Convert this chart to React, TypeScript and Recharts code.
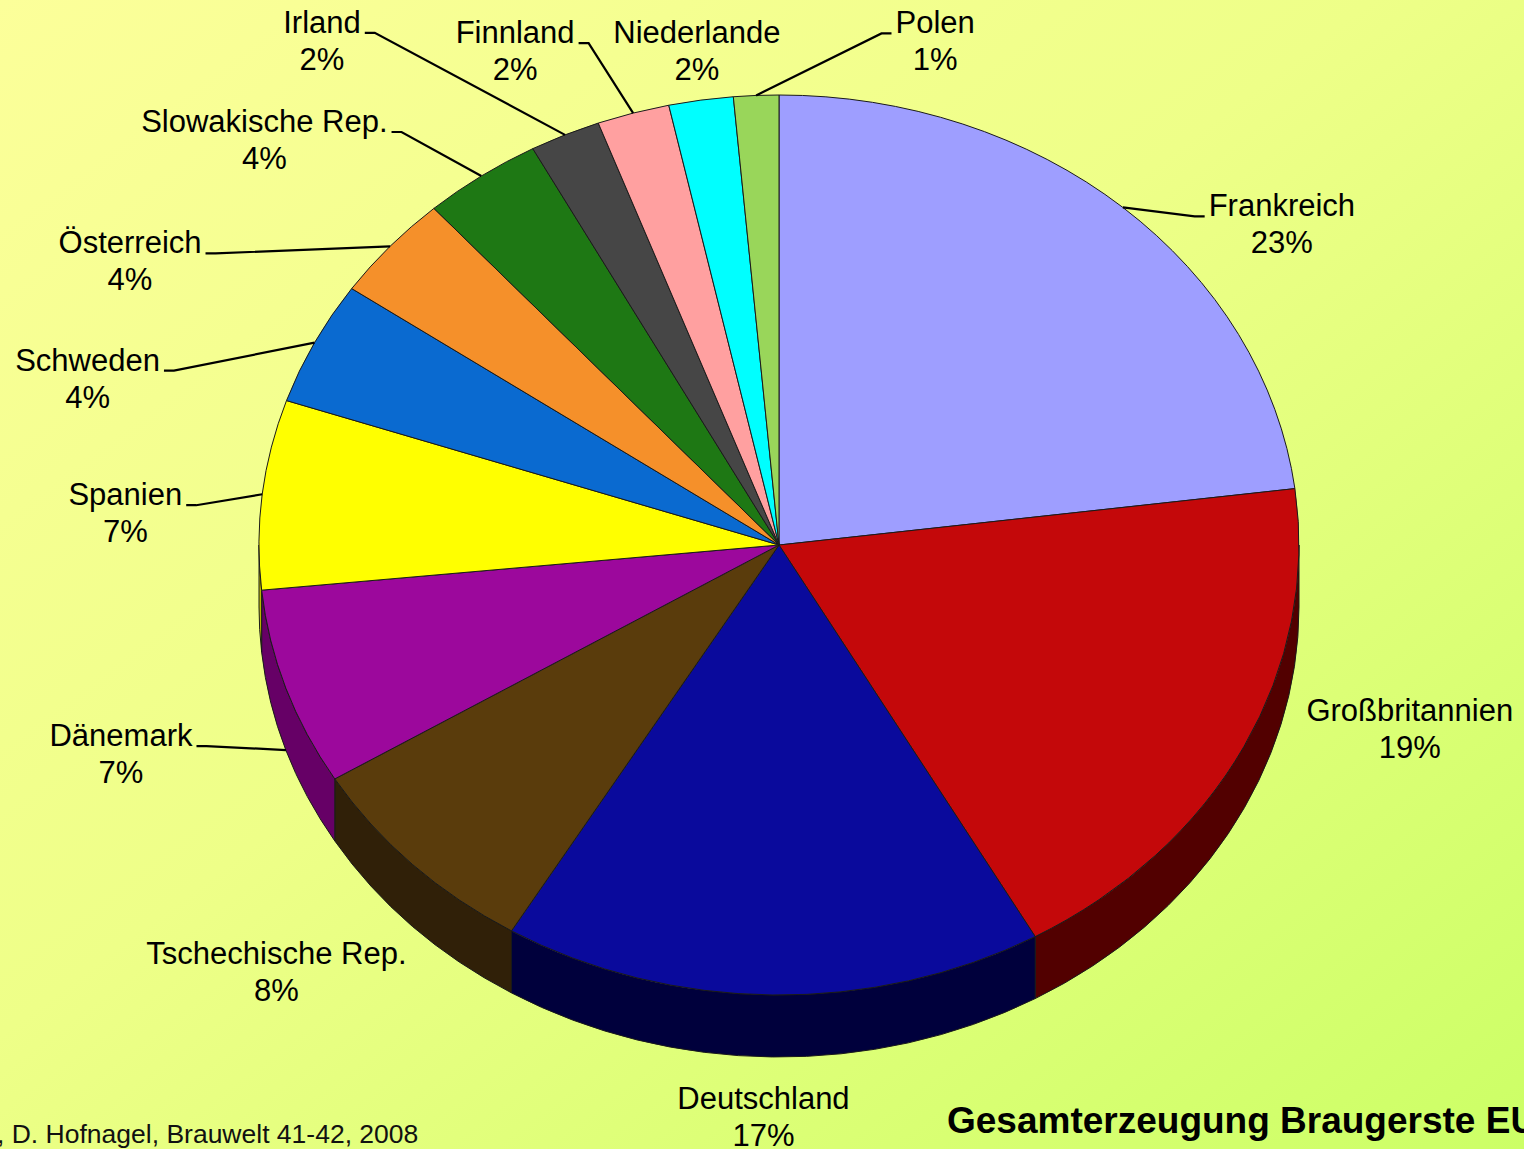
import React from 'react'
import { PieChart, Pie } from 'recharts'

// Anteile an der Gesamterzeugung Braugerste EU (in %)
const COUNTRIES = [
  'Frankreich',
  'Großbritannien',
  'Deutschland',
  'Tschechische Rep.',
  'Dänemark',
  'Spanien',
  'Schweden',
  'Österreich',
  'Slowakische Rep.',
  'Irland',
  'Finnland',
  'Niederlande',
  'Polen',
]
const SHARES = [23.0, 18.8, 16.8, 7.7, 7.1, 6.8, 4.45, 3.8, 3.7, 2.2, 2.25, 2.0, 1.4]

const TITLE = 'Gesamterzeugung Braugerste EU'
const SOURCE = ', D. Hofnagel, Brauwelt 41-42, 2008'

// styles
const FACE_COLORS = ['#9E9EFF', '#C4080A', '#0A0A9C', '#5A3C0C', '#9C089C', '#FFFF00', '#0A6AD0', '#F5902A', '#1E7814', '#464646', '#FFA0A0', '#00FFFF', '#99D65A']
const SIDE_COLORS = ['#4E4E80', '#520000', '#00003C', '#302008', '#660066', '#B8B800', '#064080', '#8A5014', '#0E400A', '#222222', '#805050', '#008080', '#4D6B2D']

// label nudge from the rim point at each slice's mid angle: [dx, dy, leader line?]
const LABEL_NUDGE: [number, number, boolean][] = [
  [159, 9, true],
  [166, -26, false],
  [-9, 114, false],
  [-136, 100, false],
  [-165, 58, true],
  [-137, 11, true],
  [-227, 28, true],
  [-260, 7, true],
  [-217, -44, true],
  [-243, -102, true],
  [-118, -70, true],
  [-4, -57, false],
  [179, -62, true],
]

const data = COUNTRIES.map((name, i) => ({ name, value: SHARES[i] }))

const W = 1524
const H = 1149
const CX = 779
const CY = 545
const RX = 520
const TILT = 450 / 520
const DEPTH = 62
const FONT = '"Liberation Sans", Arial, Helvetica, sans-serif'
const LABEL_SIZE = 31
const LINE_H = 37
const RAD = Math.PI / 180

const pt = (cx: number, cy: number, rx: number, ry: number, a: number) => [
  cx + rx * Math.cos(a * RAD),
  cy - ry * Math.sin(a * RAD),
]

let ctx: CanvasRenderingContext2D | null = null
const textWidth = (s: string) => {
  if (!ctx && typeof document !== 'undefined') ctx = document.createElement('canvas').getContext('2d')
  if (!ctx) return s.length * LABEL_SIZE * 0.55
  ctx.font = `${LABEL_SIZE}px ${FONT}`
  return ctx.measureText(s).width
}

// front wall of the 3d pie (only the lower half of the rim is visible)
const renderSide = (p: any) => {
  const { cx, cy, outerRadius, startAngle, endAngle, index } = p
  const rx = outerRadius
  const ry = outerRadius * TILT
  const hi = Math.min(Math.max(startAngle, endAngle), 0)
  const lo = Math.max(Math.min(startAngle, endAngle), -180)
  if (hi <= lo) return <g />
  const [x1, y1] = pt(cx, cy, rx, ry, hi)
  const [x2, y2] = pt(cx, cy, rx, ry, lo)
  const d = `M${x1},${y1} A${rx},${ry} 0 0 1 ${x2},${y2} L${x2},${y2 + DEPTH} A${rx},${ry} 0 0 0 ${x1},${y1 + DEPTH} Z`
  return <path d={d} fill={SIDE_COLORS[index]} stroke="#1a1a1a" strokeWidth={1} />
}

// top face of each slice, drawn on the tilted ellipse
const renderFace = (p: any) => {
  const { cx, cy, outerRadius, startAngle, endAngle, index } = p
  const rx = outerRadius
  const ry = outerRadius * TILT
  const hi = Math.max(startAngle, endAngle)
  const lo = Math.min(startAngle, endAngle)
  const [x1, y1] = pt(cx, cy, rx, ry, hi)
  const [x2, y2] = pt(cx, cy, rx, ry, lo)
  const large = hi - lo > 180 ? 1 : 0
  const d = `M${cx},${cy} L${x1},${y1} A${rx},${ry} 0 ${large} 1 ${x2},${y2} Z`
  return <path d={d} fill={FACE_COLORS[index]} stroke="#1a1a1a" strokeWidth={1} strokeLinejoin="round" />
}

const renderLabel = (p: any) => {
  const { cx, cy, outerRadius, midAngle, index, percent } = p
  const name = COUNTRIES[index]
  const rx = outerRadius
  const ry = outerRadius * TILT
  const [mx, my] = pt(cx, cy, rx, ry, midAngle)
  const [dx, dy, leader] = LABEL_NUDGE[index]
  const tx = mx + dx
  const ty = my + dy
  let line = null
  if (leader) {
    const w = textWidth(name)
    const right = dx > 0
    const edge = right ? tx - w / 2 - 4 : tx + w / 2 + 4
    const elbow = right ? edge - 10 : edge + 10
    const sy = Math.sin(midAngle * RAD) < 0 ? my + DEPTH : my
    line = (
      <polyline
        points={`${mx},${sy} ${elbow},${ty} ${edge},${ty}`}
        fill="none"
        stroke="#000"
        strokeWidth={2.2}
      />
    )
  }
  return (
    <g>
      {line}
      <text x={tx} y={ty} textAnchor="middle" fontFamily={FONT} fontSize={LABEL_SIZE} fill="#000">
        {name}
      </text>
      <text x={tx} y={ty + LINE_H} textAnchor="middle" fontFamily={FONT} fontSize={LABEL_SIZE} fill="#000">
        {`${Math.round(percent * 100)}%`}
      </text>
    </g>
  )
}

export default function App() {
  const pieProps = {
    data,
    dataKey: 'value',
    nameKey: 'name',
    cx: CX,
    cy: CY,
    outerRadius: RX,
    startAngle: 90,
    endAngle: -270,
    fill: 'transparent',
    stroke: 'none',
    labelLine: false,
    isAnimationActive: false,
  }

  return (
    <div
      style={{
        position: 'absolute',
        left: 0,
        top: 0,
        width: W,
        height: H,
        overflow: 'hidden',
        background: 'linear-gradient(to bottom right, #FCFF9A 0%, #EEFF88 45%, #CCFF66 100%)',
      }}
    >
      <PieChart width={W} height={H} margin={{ top: 0, right: 0, bottom: 0, left: 0 }}>
        <Pie {...pieProps} label={renderSide} />
        <Pie {...pieProps} label={renderFace} />
        <Pie {...pieProps} label={renderLabel} />
      </PieChart>
      <svg width={W} height={H} style={{ position: 'absolute', left: 0, top: 0, pointerEvents: 'none' }}>
        <text x={947} y={1133} fontFamily={FONT} fontSize={37} fontWeight="bold" fill="#000">
          {TITLE}
        </text>
        <text x={-3} y={1143} fontFamily={FONT} fontSize={26.5} fill="#111">
          {SOURCE}
        </text>
      </svg>
    </div>
  )
}
